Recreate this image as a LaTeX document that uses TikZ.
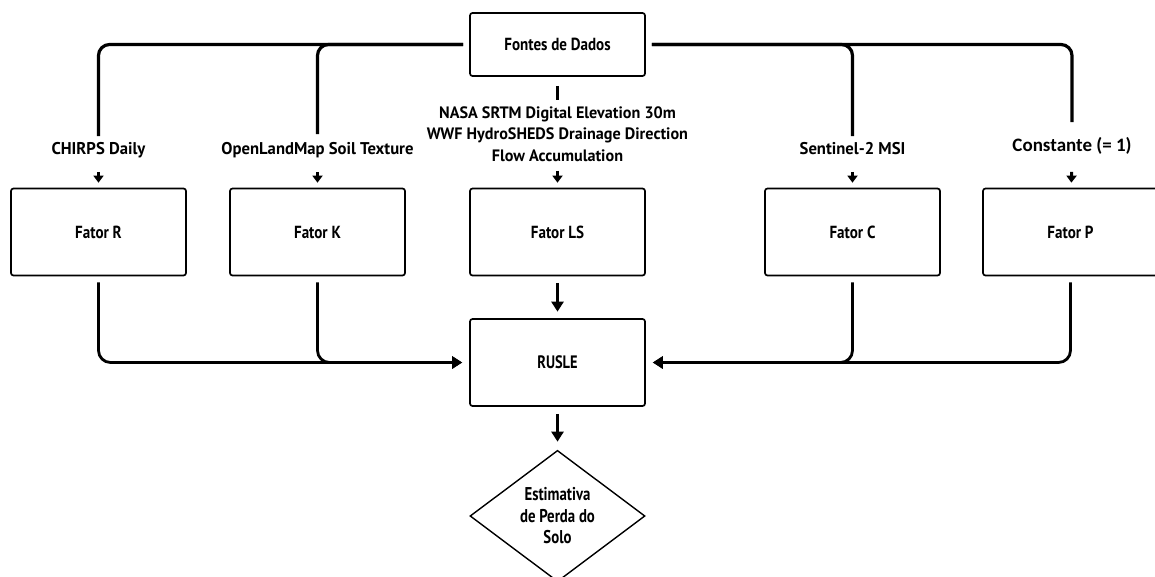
\documentclass[tikz,border=0pt]{standalone}
\usepackage{fontspec}
\setmainfont{PT Sans}[FakeStretch=0.86]
\newfontfamily\calfont{Carlito}
\newfontfamily\widefont{PT Sans}[FakeStretch=0.98]
\newfontfamily\narrowfont{PT Sans}[FakeStretch=0.8]
\usetikzlibrary{arrows.meta,shapes.geometric}
\begin{document}
\begin{tikzpicture}[x=1pt,y=-1pt,
  box/.style={draw,line width=1.7pt,rounded corners=2.5pt,minimum width=175pt,minimum height=87pt,inner sep=0pt,font=\bfseries\fontsize{17.5}{19}\selectfont},
  lab/.style={inner sep=0pt,text height=12pt,text depth=3.5pt,font=\widefont\bfseries\fontsize{17}{20}\selectfont},
  multilab/.style={inner sep=0pt,align=center,font=\widefont\bfseries\fontsize{16.5}{21.5}\selectfont},
  bus/.style={line width=3.2pt,rounded corners=11pt},
  feed/.style={line width=2.8pt,rounded corners=12pt},
  smalltip/.style={-{Triangle[width=10pt,length=7pt]}},
  bigtip/.style={-{Triangle[width=12pt,length=10pt]}},
]
\useasboundingbox (0,0) rectangle (1155,576);
\fill[white] (0,0) rectangle (1155,576);

% boxes
\node[box,minimum height=63pt] (src) at (557.5,44.5) {Fontes de Dados};
\node[box] (R) at (98.5,232) {Fator R};
\node[box] (K) at (317.5,232) {Fator K};
\node[box] (LS) at (557.5,232) {Fator LS};
\node[box] (C) at (852.5,232) {Fator C};
\node[box] (P) at (1070.5,232) {Fator P};
\node[box,font=\narrowfont\bfseries\fontsize{18}{20}\selectfont] (rusle) at (557.5,362.5) {RUSLE};
\node[diamond,draw,line width=1.4pt,minimum width=175pt,minimum height=130pt,inner sep=0pt,align=center,font=\narrowfont\bfseries\fontsize{18.5}{21.5}\selectfont] (est) at (557.5,516) {Estimativa\\de Perda do\\Solo};

% source labels
\node[lab] (lR) at (98.5,150) {CHIRPS Daily};
\node[lab] (lK) at (317.5,150) {OpenLandMap Soil Texture};
\node[multilab] (lLS) at (557.5,134) {NASA SRTM Digital Elevation 30m\\WWF HydroSHEDS Drainage Direction\\Flow Accumulation};
\node[lab] (lC) at (852.5,150) {Sentinel-2 MSI};
\node[lab,font=\calfont\bfseries\fontsize{19}{22}\selectfont] (lP) at (1072,147) {Constante (= 1)};

% top buses
\draw[bus,shorten >=6pt] ([xshift=-6pt]src.west) -| (lR.north);
\draw[bus,shorten >=8pt] ([xshift=-6pt]src.west) -| (lK.north);
\draw[bus,shorten >=6pt] ([xshift=6pt]src.east) -| (lC.north);
\draw[bus,shorten >=17pt] ([xshift=6pt]src.east) -| (lP.north);
\draw[line width=3.2pt,shorten <=9pt,shorten >=6pt] (src) -- (lLS);

% label to factor arrows
\draw[line width=3pt,smalltip,shorten <=14pt,shorten >=5pt] (lR) -- (R);
\draw[line width=3pt,smalltip,shorten <=14pt,shorten >=5pt] (lK) -- (K);
\draw[line width=3pt,smalltip,shorten <=9pt,shorten >=5pt] (lLS) -- (LS);
\draw[line width=3pt,smalltip,shorten <=14pt,shorten >=5pt] (lC) -- (C);
\draw[line width=3pt,smalltip,shorten <=17pt,shorten >=5pt] (lP) -- (P);

% factors to RUSLE
\draw[feed,bigtip,shorten <=6pt,shorten >=7pt] (R) |- (rusle);
\draw[feed,bigtip,shorten <=6pt,shorten >=7pt] (K) |- (rusle);
\draw[feed,bigtip,shorten <=6pt,shorten >=7pt] (C) |- (rusle);
\draw[feed,bigtip,shorten <=6pt,shorten >=7pt] (P) |- (rusle);
\draw[line width=2.6pt,bigtip,shorten <=6.5pt,shorten >=6.5pt] (LS) -- (rusle);
\draw[line width=2.6pt,bigtip,shorten <=7pt,shorten >=8pt] (rusle) -- (est);
\end{tikzpicture}
\end{document}
